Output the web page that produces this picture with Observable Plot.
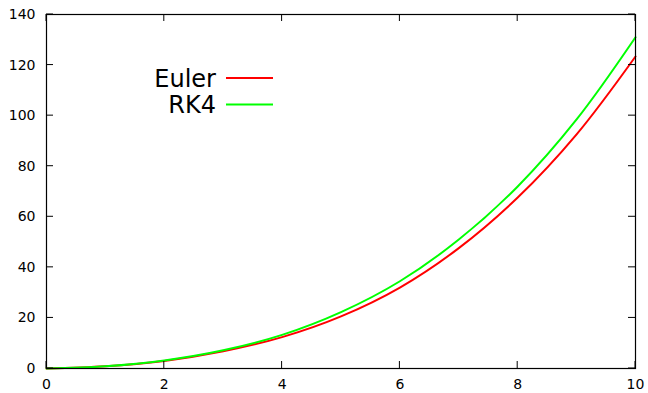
<!DOCTYPE html>
<html>
<head>
<meta charset="utf-8">
<script src="https://cdn.jsdelivr.net/npm/d3@7"></script>
<script src="https://cdn.jsdelivr.net/npm/@observablehq/plot@0.6"></script>
<style>
  html, body { margin: 0; padding: 0; background: #fff; }
  #chart { width: 648px; height: 393px; }
  svg { font-family: "DejaVu Sans", sans-serif; }
</style>
</head>
<body>
<div id="chart"></div>
<script>
// Data
const xs = [0, 1, 2, 3, 4, 5, 6, 7, 8, 9, 10];
const euler = [0, 0.85, 3.0, 6.8, 12.4, 20.6, 32.0, 47.6, 67.6, 92.6, 123.4];
const rk4 = [0, 0.9, 3.2, 7.2, 13.3, 22.3, 34.5, 51.0, 72.0, 98.5, 131.0];
const seriesNames = ["Euler", "RK4"];
const seriesColors = ["#ff0000", "#00ff00"];
const xTicks = [0, 2, 4, 6, 8, 10];
const yTicks = [0, 20, 40, 60, 80, 100, 120, 140];

const eulerData = xs.map((x, i) => ({x, y: euler[i]}));
const rk4Data = xs.map((x, i) => ({x, y: rk4[i]}));

const plot = Plot.plot({
  width: 648,
  height: 393,
  marginTop: 14,
  marginRight: 13,
  marginBottom: 25,
  marginLeft: 46,
  style: {fontFamily: "DejaVu Sans, sans-serif", fontSize: "14px", background: "#fff", color: "#000"},
  x: {domain: [0, 10]},
  y: {domain: [0, 140]},
  marks: [
    Plot.axisX(xTicks, {tickSize: 0, tickPadding: 11, label: null, fontSize: 14, fill: "#000"}),
    Plot.axisY(yTicks, {tickSize: 0, tickPadding: 11, label: null, fontSize: 14, fill: "#000"}),
    Plot.line(eulerData, {x: "x", y: "y", stroke: seriesColors[0], strokeWidth: 2, curve: "catmull-rom"}),
    Plot.line(rk4Data, {x: "x", y: "y", stroke: seriesColors[1], strokeWidth: 2, curve: "catmull-rom"}),
    Plot.frame({stroke: "#000", strokeWidth: 1.2})
  ]
});

document.getElementById("chart").appendChild(plot);

// gnuplot-style inward ticks on all four sides, positioned through Plot's scales
const sx = plot.scale("x"), sy = plot.scale("y");
const svg = d3.select(plot);
const [x0, x1] = sx.range, [y0, y1] = sy.range; // y0 bottom, y1 top
const tl = 7;
const g = svg.append("g").attr("stroke", "#000").attr("stroke-width", 1);
xTicks.forEach(v => {
  const px = sx.apply(v);
  g.append("line").attr("x1", px).attr("x2", px).attr("y1", y0).attr("y2", y0 - tl);
  g.append("line").attr("x1", px).attr("x2", px).attr("y1", y1).attr("y2", y1 + tl);
});
yTicks.forEach(v => {
  const py = sy.apply(v);
  g.append("line").attr("x1", x0).attr("x2", x0 + tl).attr("y1", py).attr("y2", py);
  g.append("line").attr("x1", x1).attr("x2", x1 - tl).attr("y1", py).attr("y2", py);
});

// legend (gnuplot key, inside upper left)
const lg = svg.append("g");
seriesNames.forEach((name, i) => {
  const cy = 78 + i * 26.5;
  lg.append("text").attr("x", 216).attr("y", cy).attr("dy", "0.36em")
    .attr("text-anchor", "end").attr("font-size", 24).attr("fill", "#000")
    .attr("font-family", "DejaVu Sans, sans-serif").text(name);
  lg.append("line").attr("x1", 226).attr("x2", 273).attr("y1", cy).attr("y2", cy)
    .attr("stroke", seriesColors[i]).attr("stroke-width", 2);
});
</script>
</body>
</html>
